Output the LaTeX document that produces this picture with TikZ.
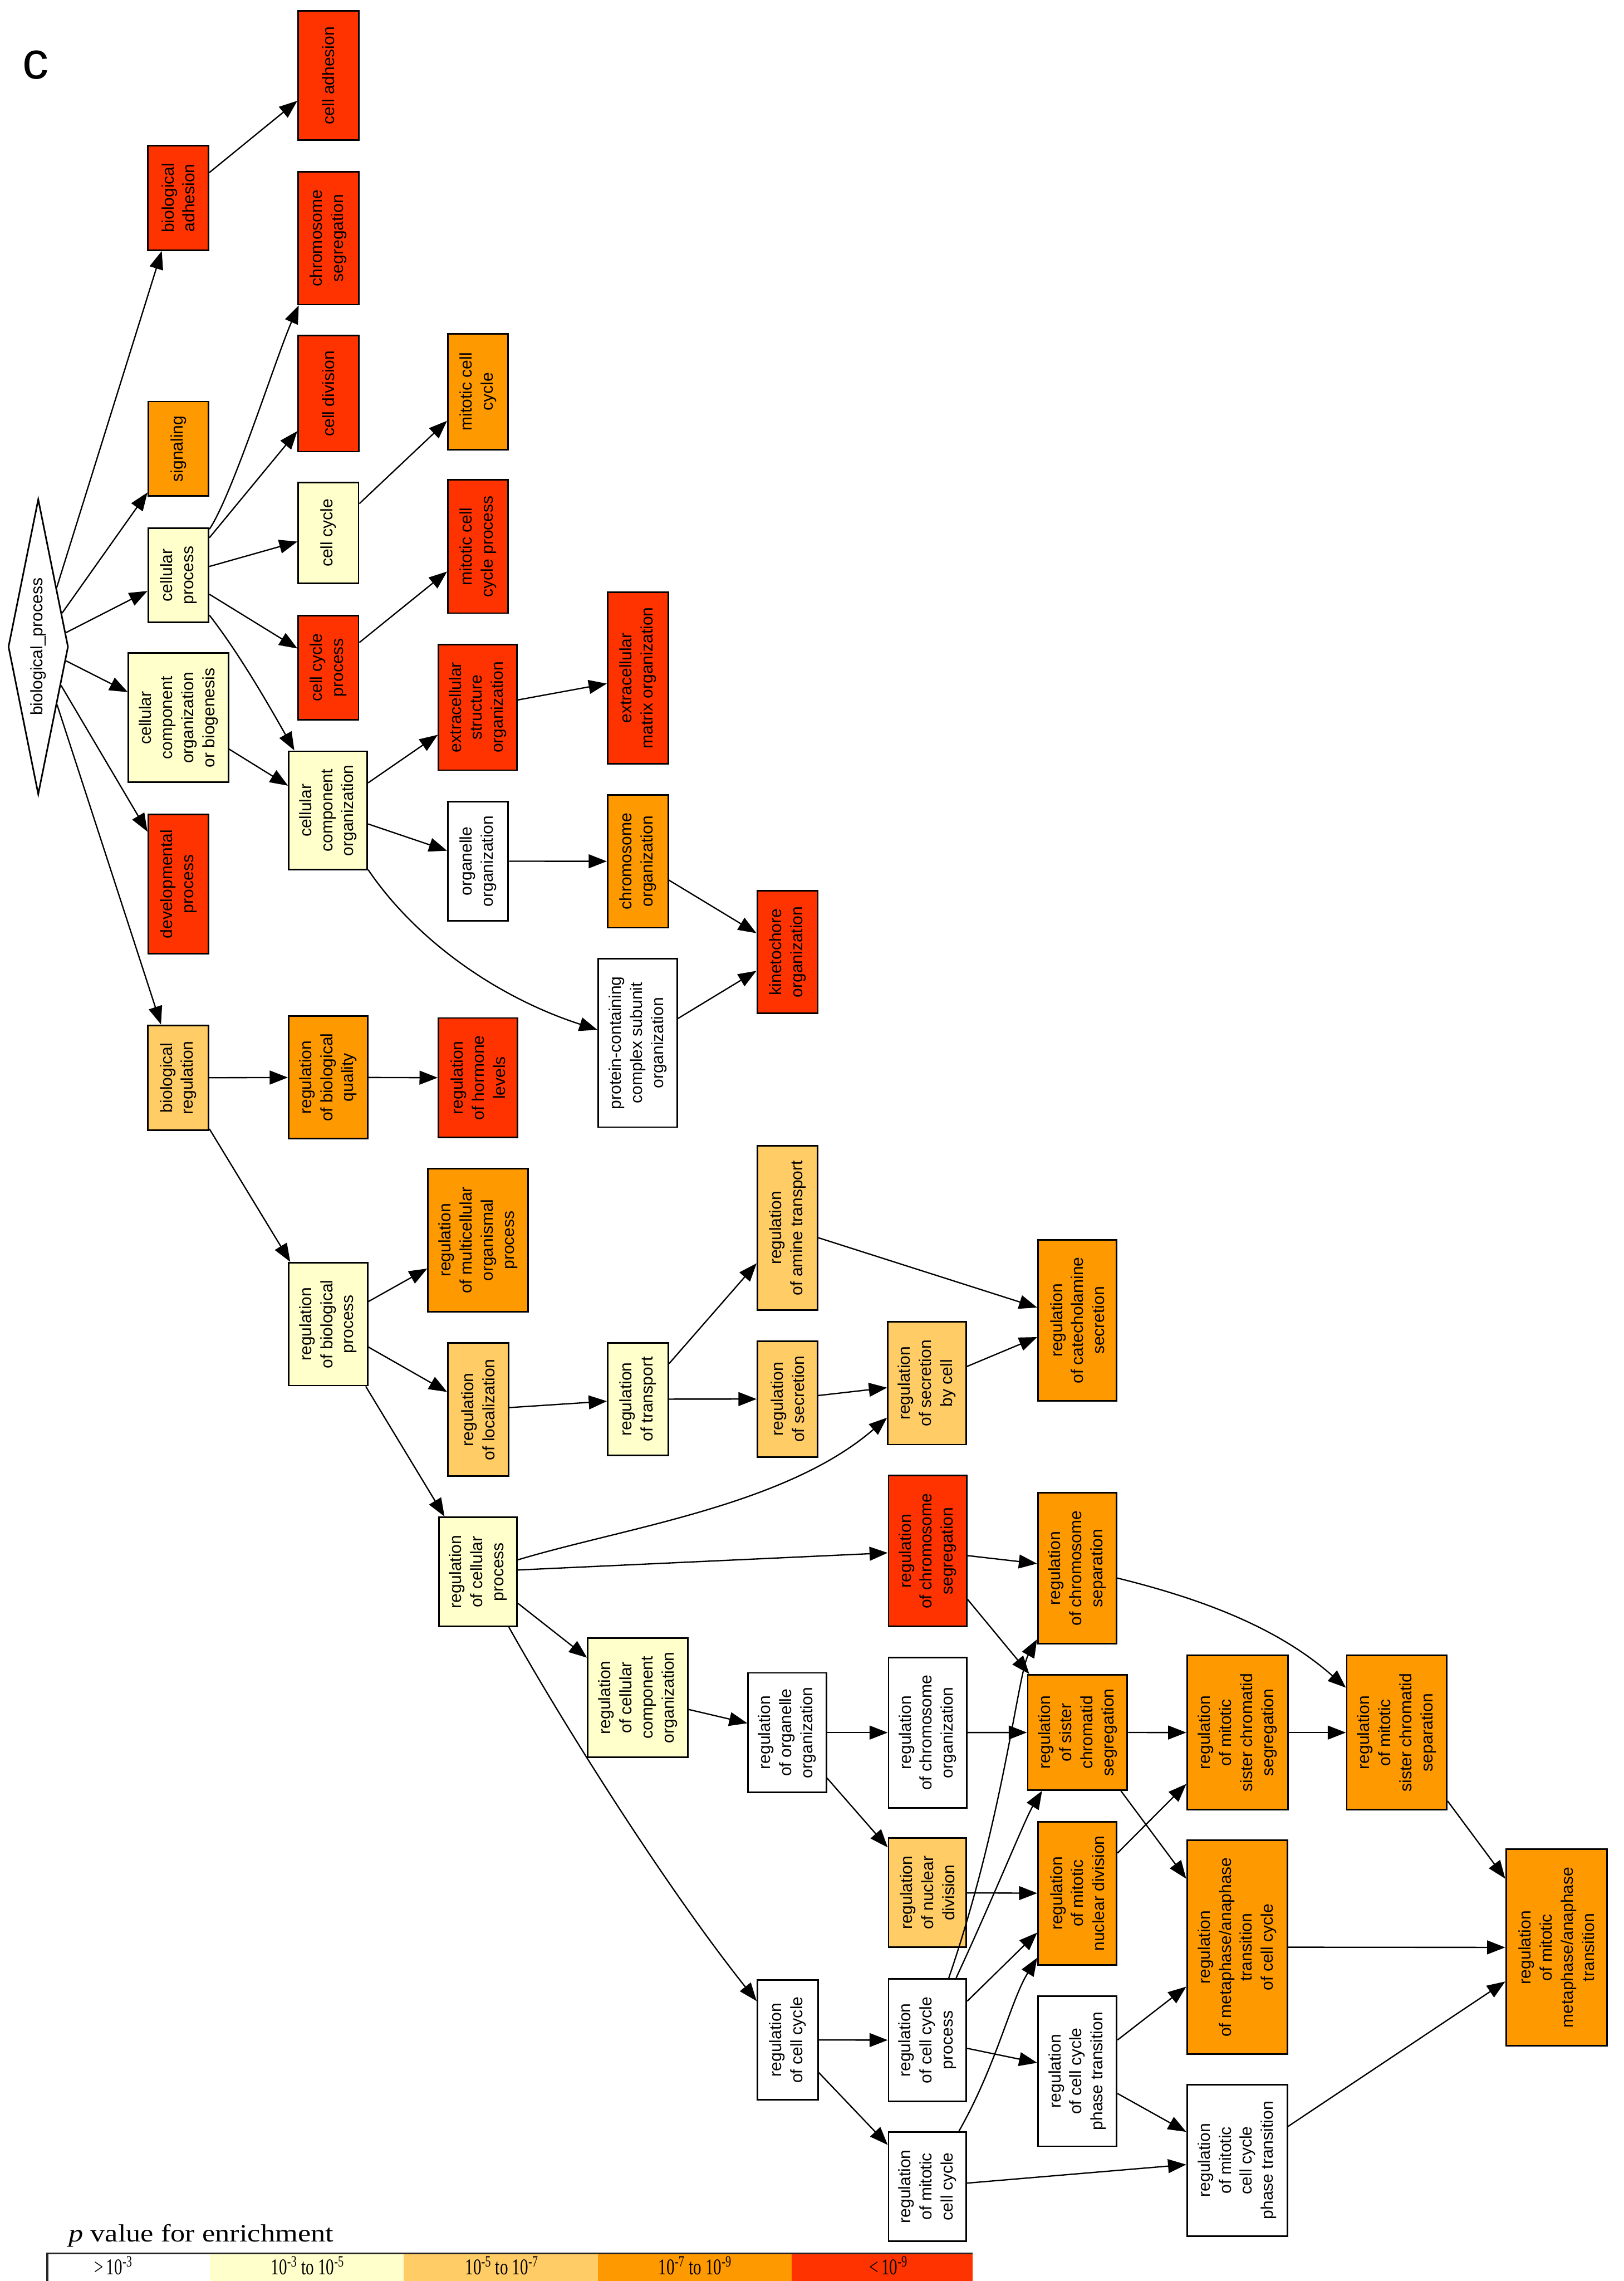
\documentclass[tikz,border=0pt]{standalone}
\usepackage{fontspec}
\setmainfont{Liberation Sans}
\newfontfamily\legfont{Liberation Serif}
\usetikzlibrary{arrows.meta,shapes.geometric}
\definecolor{cRed}{HTML}{FF3300}
\definecolor{cOrange}{HTML}{FF9900}
\definecolor{cLOrange}{HTML}{FFCC66}
\definecolor{cYellow}{HTML}{FFFFCC}
\begin{document}
\begin{tikzpicture}[x=1pt,y=-1pt,
  box/.style={draw=black, line width=1.1pt, rotate=90, inner sep=0pt, align=center,
              font=\fontsize{11.5}{14.5}\selectfont},
  bx/.style 2 args={minimum width=#1pt, minimum height=#2pt},
  gR/.style={box, fill=cRed},
  gO/.style={box, fill=cOrange},
  gL/.style={box, fill=cLOrange},
  gY/.style={box, fill=cYellow},
  gW/.style={box, fill=white},
  arr/.style={draw=black, line width=0.9pt, -{Triangle[length=12.5pt,width=9.5pt]}},
  leglab/.style={anchor=base, inner sep=0pt, font=\legfont\fontsize{15.5}{17}\selectfont, xscale=0.72}
]
\fill[white] (0,0) rectangle (1116.5,1568);
\useasboundingbox (0,0) rectangle (1116.5,1568);

% panel label
\node[anchor=base west, inner sep=0pt, font=\fontsize{36}{40}\selectfont] (panel) at (15.3,54.2) {c};

% root
\node[diamond, draw=black, line width=1.1pt, rotate=90, aspect=5, inner sep=0pt,
      minimum width=203pt, minimum height=41.3pt, fill=white,
      font=\fontsize{11.5}{14.5}\selectfont] (bp) at (26.3,444.6) {biological\_process};

% column 1
\node[gR, bx={72}{41.6}] (badh) at (122.6,136) {biological\\adhesion};
\node[gO, bx={65}{41.5}] (sig) at (122.7,308.5) {signaling};
\node[gY, bx={64.8}{41.5}] (cellproc) at (122.7,395.4) {cellular\\process};
\node[gY, bx={88.8}{68.6}] (ccoob) at (122.7,493.4) {cellular\\component\\organization\\or biogenesis};
\node[gR, bx={96}{41.5}] (dev) at (122.7,607.7) {developmental\\process};
\node[gL, bx={72.2}{41.6}] (bioreg) at (122.6,740.9) {biological\\regulation};

% column 2
\node[gR, bx={88.9}{41.6}] (celladh) at (225.8,51.9) {cell adhesion};
\node[gR, bx={91.4}{41.6}] (chromseg) at (225.8,163.7) {chromosome\\segregation};
\node[gR, bx={79.9}{41.6}] (celldiv) at (225.8,270.5) {cell division};
\node[gY, bx={69.4}{41.5}] (cellcyc) at (225.8,366.3) {cell cycle};
\node[gR, bx={71.7}{41.5}] (ccproc) at (225.8,458.9) {cell cycle\\process};
\node[gY, bx={81.4}{53.9}] (cco) at (225.6,557.1) {cellular\\component\\organization};
\node[gO, bx={84.3}{54.2}] (rbq) at (225.6,740.6) {regulation\\of biological\\quality};
\node[gY, bx={84.5}{54.2}] (rbp) at (225.6,910.2) {regulation\\of biological\\process};

% column 3
\node[gO, bx={79.6}{41.5}] (mitcc) at (328.7,269.2) {mitotic cell\\cycle};
\node[gR, bx={91.5}{41.5}] (mitccp) at (328.7,375.7) {mitotic cell\\cycle process};
\node[gR, bx={86.4}{53.9}] (eso) at (328.5,486.2) {extracellular\\structure\\organization};
\node[gW, bx={82}{41.5}] (orgorg) at (328.7,592) {organelle\\organization};
\node[gR, bx={82.3}{54.4}] (rhl) at (328.7,740.9) {regulation\\of hormone\\levels};
\node[gO, bx={98.4}{68.7}] (rmop) at (328.7,852.5) {regulation\\of multicellular\\organismal\\process};
\node[gL, bx={91.5}{41.6}] (rloc) at (328.8,969) {regulation\\of localization};
\node[gY, bx={75}{53.7}] (rcp) at (328.6,1080.5) {regulation\\of cellular\\process};

% column 4
\node[gR, bx={118}{41.6}] (ecm) at (438.6,466) {extracellular\\matrix organization};
\node[gO, bx={91.3}{41.6}] (chromorg) at (438.6,592.1) {chromosome\\organization};
\node[gW, bx={115.8}{54.3}] (pcso) at (438.5,716.9) {protein-containing\\complex subunit\\organization};
\node[gY, bx={77.5}{41.7}] (rtrans) at (438.7,961.8) {regulation\\of transport};
\node[gY, bx={81.8}{68.6}] (rccorg) at (438.5,1166.9) {regulation\\of cellular\\component\\organization};

% column 5
\node[gR, bx={84.2}{41.7}] (kinet) at (541.5,654.4) {kinetochore\\organization};
\node[gL, bx={113.2}{41.4}] (ramine) at (541.5,844.1) {regulation\\of amine transport};
\node[gL, bx={79.7}{41.4}] (rsec) at (541.5,961.7) {regulation\\of secretion};
\node[gW, bx={82.1}{53.7}] (rorg) at (541.3,1191) {regulation\\of organelle\\organization};
\node[gW, bx={82.3}{41.6}] (rcc) at (541.6,1402.3) {regulation\\of cell cycle};

% column 6
\node[gL, bx={84.4}{53.8}] (rsbc) at (637.4,950.8) {regulation\\of secretion\\by cell};
\node[gR, bx={103.6}{53.7}] (rchromseg) at (637.8,1066.2) {regulation\\of chromosome\\segregation};
\node[gW, bx={103.3}{53.7}] (rchromorg) at (637.8,1191) {regulation\\of chromosome\\organization};
\node[gL, bx={75}{53.5}] (rnd) at (637.7,1301.1) {regulation\\of nuclear\\division};
\node[gW, bx={84.3}{53.5}] (rccp) at (637.7,1402.4) {regulation\\of cell cycle\\process};
\node[gW, bx={74.9}{53.5}] (rmcc) at (637.7,1503) {regulation\\of mitotic\\cell cycle};

% column 7
\node[gO, bx={110.8}{54.1}] (rcat) at (740.8,907.6) {regulation\\of catecholamine\\secretion};
\node[gO, bx={103.7}{54.2}] (rchromsep) at (740.7,1078) {regulation\\of chromosome\\separation};
\node[gO, bx={79.2}{68.5}] (rscs) at (740.9,1190.9) {regulation\\of sister\\chromatid\\segregation};
\node[gO, bx={98.5}{54.1}] (rmnd) at (740.8,1301.5) {regulation\\of mitotic\\nuclear division};
\node[gW, bx={103.3}{54.1}] (rccpt) at (740.8,1423.7) {regulation\\of cell cycle\\phase transition};

% column 8
\node[gO, bx={106}{69.3}] (rmscs) at (850.9,1191) {regulation\\of mitotic\\sister chromatid\\segregation};
\node[gO, bx={146.8}{69}] (rmat) at (850.7,1338.5) {regulation\\of metaphase/anaphase\\transition\\of cell cycle};
\node[gW, bx={104.1}{69}] (rmccpt) at (850.7,1485) {regulation\\of mitotic\\cell cycle\\phase transition};

% column 9, 10
\node[gO, bx={106}{68.8}] (rmscsep) at (960.4,1191) {regulation\\of mitotic\\sister chromatid\\separation};
\node[gO, bx={134.9}{69.3}] (rmmat) at (1070.2,1338.7) {regulation\\of mitotic\\metaphase/anaphase\\transition};

% edges
\draw[arr] (bp) -- (badh);
\draw[arr] (bp) -- (sig);
\draw[arr] (bp) -- (cellproc);
\draw[arr] (bp) -- (ccoob);
\draw[arr] (bp) -- (dev);
\draw[arr] (bp) -- (bioreg);
\draw[arr] (badh) -- (celladh);
\draw[arr] (cellproc) .. controls (160,340) and (190,245) .. (chromseg);
\draw[arr] (cellproc) -- (celldiv);
\draw[arr] (cellproc) -- (cellcyc);
\draw[arr] (cellproc) -- (ccproc);
\draw[arr] (cellproc) .. controls (165,450) and (185,485) .. (cco);
\draw[arr] (cellcyc) -- (mitcc);
\draw[arr] (ccproc) -- (mitccp);
\draw[arr] (ccoob) -- (cco);
\draw[arr] (cco) -- (eso);
\draw[arr] (cco) -- (orgorg);
\draw[arr] (cco) .. controls (285,645) and (340,685) .. (pcso);
\draw[arr] (eso) -- (ecm);
\draw[arr] (orgorg) -- (chromorg);
\draw[arr] (chromorg) -- (kinet);
\draw[arr] (pcso) -- (kinet);
\draw[arr] (bioreg) -- (rbq);
\draw[arr] (rbq) -- (rhl);
\draw[arr] (bioreg) -- (rbp);
\draw[arr] (rbp) -- (rmop);
\draw[arr] (rbp) -- (rloc);
\draw[arr] (rbp) -- (rcp);
\draw[arr] (rloc) -- (rtrans);
\draw[arr] (rtrans) -- (ramine);
\draw[arr] (rtrans) -- (rsec);
\draw[arr] (ramine) -- (rcat);
\draw[arr] (rsec) -- (rsbc);
\draw[arr] (rsbc) -- (rcat);
\draw[arr] (rcp) .. controls (430,1050) and (540,1035) .. (rsbc);
\draw[arr] (rcp) -- (rchromseg);
\draw[arr] (rcp) -- (rccorg);
\draw[arr] (rcp) .. controls (390,1190) and (460,1300) .. (rcc);
\draw[arr] (rccorg) -- (rorg);
\draw[arr] (rorg) -- (rchromorg);
\draw[arr] (rorg) -- (rnd);
\draw[arr] (rchromorg) -- (rscs);
\draw[arr] (rchromseg) -- (rchromsep);
\draw[arr] (rchromseg) -- (rscs);
\draw[arr] (rchromsep) .. controls (830,1100) and (880,1120) .. (rmscsep);
\draw[arr] (rscs) -- (rmscs);
\draw[arr] (rscs) -- (rmat);
\draw[arr] (rmscs) -- (rmscsep);
\draw[arr] (rmscsep) -- (rmmat);
\draw[arr] (rnd) -- (rmnd);
\draw[arr] (rmnd) -- (rmscs);
\draw[arr] (rmat) -- (rmmat);
\draw[arr] (rcc) -- (rccp);
\draw[arr] (rcc) -- (rmcc);
\draw[arr] (rccp) .. controls (690,1250) and (700,1150) .. (rchromsep);
\draw[arr] (rccp) .. controls (685,1300) and (705,1250) .. (rscs);
\draw[arr] (rccp) -- (rmnd);
\draw[arr] (rccp) -- (rccpt);
\draw[arr] (rmcc) .. controls (685,1420) and (695,1375) .. (rmnd);
\draw[arr] (rmcc) -- (rmccpt);
\draw[arr] (rccpt) -- (rmat);
\draw[arr] (rccpt) -- (rmccpt);
\draw[arr] (rmccpt) -- (rmmat);

% legend
\node[anchor=base west, inner sep=0pt, font=\legfont\fontsize{17}{20}\selectfont, xscale=1.18]
  (legtitle) at (47,1541) {\textit{p} value for enrichment};
\fill[white]    (32.5,1549) rectangle (144.4,1568);
\fill[cYellow]  (144.4,1549) rectangle (277.6,1568);
\fill[cLOrange] (277.6,1549) rectangle (411.1,1568);
\fill[cOrange]  (411.1,1549) rectangle (544.3,1568);
\fill[cRed]     (544.3,1549) rectangle (668.8,1568);
\draw[line width=1.4pt, draw=black!85] (32.5,1568) -- (32.5,1549) -- (668.8,1549);
\node[leglab] (lab1) at (78,1563.5) {>\,10\textsuperscript{-3}};
\node[leglab] (lab2) at (211.5,1563.5) {10\textsuperscript{-3} to 10\textsuperscript{-5}};
\node[leglab] (lab3) at (345,1563.5) {10\textsuperscript{-5} to 10\textsuperscript{-7}};
\node[leglab] (lab4) at (478,1563.5) {10\textsuperscript{-7} to 10\textsuperscript{-9}};
\node[leglab] (lab5) at (611,1563.5) {<\,10\textsuperscript{-9}};
\end{tikzpicture}
\end{document}
